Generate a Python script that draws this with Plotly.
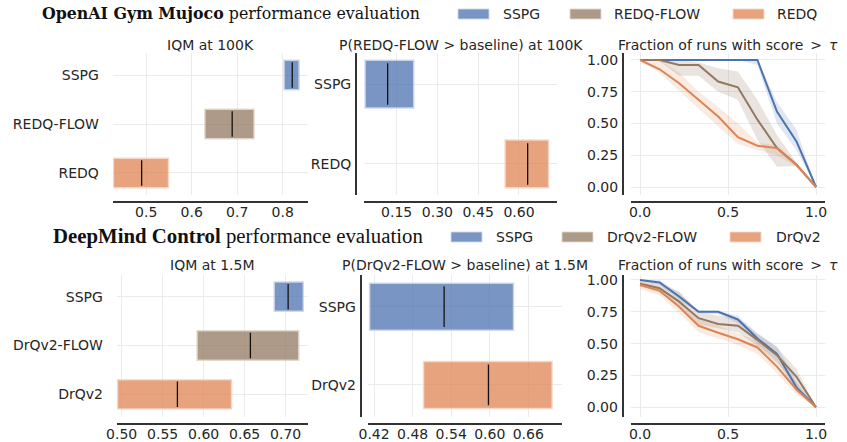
import plotly.graph_objects as go

# ---------------- data ----------------
mujoco_algos = ["SSPG", "REDQ-FLOW", "REDQ"]
mujoco_iqm_lo = [0.803, 0.629, 0.428]
mujoco_iqm_med = [0.821, 0.689, 0.490]
mujoco_iqm_hi = [0.836, 0.737, 0.549]

mujoco_prob_algos = ["SSPG", "REDQ"]
mujoco_prob_lo = [0.034, 0.549]
mujoco_prob_med = [0.117, 0.632]
mujoco_prob_hi = [0.213, 0.709]

dmc_algos = ["SSPG", "DrQv2-FLOW", "DrQv2"]
dmc_iqm_lo = [0.686, 0.592, 0.495]
dmc_iqm_med = [0.703, 0.657, 0.568]
dmc_iqm_hi = [0.7215, 0.716, 0.634]

dmc_prob_algos = ["SSPG", "DrQv2"]
dmc_prob_lo = [0.413, 0.497]
dmc_prob_med = [0.529, 0.598]
dmc_prob_hi = [0.637, 0.697]

tau = [0.0, 0.111, 0.222, 0.333, 0.444, 0.556, 0.667, 0.778, 0.889, 1.0]

mj_sspg = [1.0, 1.0, 1.0, 1.0, 1.0, 1.0, 1.0, 0.594, 0.359, 0.0]
mj_sspg_lo = [1.0, 1.0, 1.0, 1.0, 1.0, 1.0, 0.96, 0.50, 0.29, 0.0]
mj_sspg_hi = [1.0, 1.0, 1.0, 1.0, 1.0, 1.0, 1.0, 0.67, 0.45, 0.0]
mj_flow = [1.0, 1.0, 0.96, 0.96, 0.83, 0.785, 0.53, 0.306, 0.175, 0.0]
mj_flow_lo = [1.0, 0.99, 0.875, 0.875, 0.75, 0.686, 0.37, 0.16, 0.165, 0.0]
mj_flow_hi = [1.0, 1.0, 1.0, 0.98, 0.935, 0.91, 0.686, 0.41, 0.19, 0.0]
mj_redq = [1.0, 0.927, 0.817, 0.686, 0.555, 0.393, 0.325, 0.306, 0.175, 0.0]
mj_redq_lo = [1.0, 0.90, 0.76, 0.62, 0.476, 0.34, 0.29, 0.25, 0.16, 0.0]
mj_redq_hi = [1.0, 1.0, 0.90, 0.75, 0.63, 0.50, 0.35, 0.33, 0.19, 0.0]

dm_sspg = [1.0, 0.98, 0.87, 0.75, 0.75, 0.69, 0.54, 0.42, 0.157, 0.0]
dm_sspg_lo = [0.99, 0.96, 0.84, 0.74, 0.73, 0.66, 0.50, 0.37, 0.12, 0.0]
dm_sspg_hi = [1.0, 1.0, 0.90, 0.76, 0.76, 0.72, 0.58, 0.48, 0.20, 0.0]
dm_flow = [0.97, 0.935, 0.83, 0.70, 0.655, 0.64, 0.53, 0.41, 0.24, 0.0]
dm_flow_lo = [0.95, 0.90, 0.80, 0.65, 0.62, 0.59, 0.48, 0.35, 0.18, 0.0]
dm_flow_hi = [0.99, 0.97, 0.91, 0.75, 0.72, 0.70, 0.58, 0.47, 0.30, 0.0]
dm_drq = [0.96, 0.916, 0.79, 0.64, 0.586, 0.534, 0.47, 0.32, 0.14, 0.0]
dm_drq_lo = [0.93, 0.88, 0.74, 0.59, 0.54, 0.49, 0.42, 0.27, 0.10, 0.0]
dm_drq_hi = [0.99, 0.95, 0.83, 0.69, 0.64, 0.58, 0.52, 0.37, 0.19, 0.0]

# ---------------- styles ----------------
W, H = 847, 442
BAR = {"blue": "rgba(76,114,176,0.75)", "brown": "rgba(147,120,96,0.75)", "orange": "rgba(221,132,82,0.75)"}
EDGE = {"blue": "rgba(205,215,235,0.9)", "brown": "rgba(225,215,205,0.9)", "orange": "rgba(245,215,200,0.9)"}
LINE = {"blue": "#4C72B0", "brown": "#937860", "orange": "#DD8452"}
BAND = {"blue": "rgba(76,114,176,0.17)", "brown": "rgba(147,120,96,0.2)", "orange": "rgba(221,132,82,0.17)"}
TXT = "#262626"
GRID = "#EBEBEB"
SPINE = "#333333"
FONT = "DejaVu Sans"


def px(x):
    return x / W


def py(y):
    return 1 - y / H


fig = go.Figure()
layout = {}


def add_axes(i, xdom, ydom, xrange, yrange, xticks, xfmt, yticks, yticktext, xspine_y, yspine_x, show_yline):
    xa = "xaxis" if i == 1 else f"xaxis{i}"
    ya = "yaxis" if i == 1 else f"yaxis{i}"
    layout[xa] = dict(domain=[px(xdom[0]), px(xdom[1])], range=xrange, anchor="free",
                      position=py(xspine_y), showline=True, linecolor=SPINE, linewidth=2,
                      tickvals=xticks, tickformat=xfmt, ticks="", ticklabelstandoff=-3,
                      showgrid=True, automargin=False,
                      gridcolor=GRID, gridwidth=1, zeroline=False,
                      tickfont=dict(family=FONT, size=14, color=TXT))
    layout[ya] = dict(domain=[py(ydom[1]), py(ydom[0])], range=yrange, anchor="free",
                      position=px(yspine_x), showline=show_yline, linecolor=SPINE, linewidth=2,
                      tickvals=yticks, ticktext=yticktext, ticks="outside",
                      ticklen=(11 if not show_yline else 1), tickcolor="rgba(0,0,0,0)",
                      showgrid=True, automargin=False,
                      gridcolor=GRID, gridwidth=1, zeroline=False,
                      tickfont=dict(family=FONT, size=14, color=TXT))


def add_interval(i, algos, lo, med, hi, colors):
    xr = "x" if i == 1 else f"x{i}"
    yr = "y" if i == 1 else f"y{i}"
    n = len(algos)
    pos = [n - 1 - k for k in range(n)]
    fig.add_trace(go.Bar(orientation="h", y=pos, x=[h - l for l, h in zip(lo, hi)], base=lo,
                         width=0.6, marker=dict(color=[BAR[c] for c in colors],
                                                line=dict(color=[EDGE[c] for c in colors], width=1.5)),
                         xaxis=xr, yaxis=yr, showlegend=False, hoverinfo="skip"))
    for p, m in zip(pos, med):
        fig.add_trace(go.Scatter(x=[m, m], y=[p - 0.26, p + 0.26], mode="lines",
                                 line=dict(color="#111111", width=1.3),
                                 xaxis=xr, yaxis=yr, showlegend=False, hoverinfo="skip"))
    return pos


def add_profiles(i, series):
    xr = f"x{i}"
    yr = f"y{i}"
    for mid, lo, hi, c in series:
        fig.add_trace(go.Scatter(x=tau + tau[::-1], y=hi + lo[::-1], fill="toself",
                                 fillcolor=BAND[c], line=dict(width=0), mode="lines",
                                 xaxis=xr, yaxis=yr, showlegend=False, hoverinfo="skip"))
    for mid, lo, hi, c in series:
        fig.add_trace(go.Scatter(x=tau, y=mid, mode="lines", line=dict(color=LINE[c], width=2),
                                 xaxis=xr, yaxis=yr, showlegend=False, hoverinfo="skip"))


# ---- top row ----
pos1 = add_interval(1, mujoco_algos, mujoco_iqm_lo, mujoco_iqm_med, mujoco_iqm_hi, ["blue", "brown", "orange"])
add_axes(1, (112.7, 308), (53, 195), [0.4264, 0.8556], [-0.45, 2.45], [0.5, 0.6, 0.7, 0.8], ".1f",
         pos1, mujoco_algos, 202, 112.7, False)

pos2 = add_interval(2, mujoco_prob_algos, mujoco_prob_lo, mujoco_prob_med, mujoco_prob_hi, ["blue", "orange"])
add_axes(2, (364, 557.3), (53, 195), [0.03, 0.741], [-0.39, 1.39], [0.15, 0.30, 0.45, 0.60], ".2f",
         pos2, mujoco_prob_algos, 202, 356, True)

add_profiles(3, [(mj_sspg, mj_sspg_lo, mj_sspg_hi, "blue"),
                 (mj_flow, mj_flow_lo, mj_flow_hi, "brown"),
                 (mj_redq, mj_redq_lo, mj_redq_hi, "orange")])
add_axes(3, (630.7, 825), (53, 195), [-0.053, 1.051], [-0.063, 1.055], [0.0, 0.5, 1.0], ".1f",
         [0.0, 0.25, 0.5, 0.75, 1.0], ["0.00", "0.25", "0.50", "0.75", "1.00"], 202, 623, True)

# ---- bottom row ----
pos4 = add_interval(4, dmc_algos, dmc_iqm_lo, dmc_iqm_med, dmc_iqm_hi, ["blue", "brown", "orange"])
add_axes(4, (116.7, 308.3), (275, 417), [0.494, 0.7276], [-0.465, 2.445], [0.50, 0.55, 0.60, 0.65, 0.70], ".2f",
         pos4, dmc_algos, 424, 116.7, False)

pos5 = add_interval(5, dmc_prob_algos, dmc_prob_lo, dmc_prob_med, dmc_prob_hi, ["blue", "orange"])
add_axes(5, (368.3, 561.7), (275, 417), [0.411, 0.712], [-0.41, 1.405], [0.42, 0.48, 0.54, 0.60, 0.66], ".2f",
         pos5, dmc_prob_algos, 424, 360.7, True)

add_profiles(6, [(dm_sspg, dm_sspg_lo, dm_sspg_hi, "blue"),
                 (dm_flow, dm_flow_lo, dm_flow_hi, "brown"),
                 (dm_drq, dm_drq_lo, dm_drq_hi, "orange")])
add_axes(6, (630.7, 825), (275, 417), [-0.053, 1.051], [-0.076, 1.039], [0.0, 0.5, 1.0], ".1f",
         [0.0, 0.25, 0.5, 0.75, 1.0], ["0.00", "0.25", "0.50", "0.75", "1.00"], 424, 622.7, True)

# ---------------- titles ----------------
annotations = []
frac_title = "Fraction of runs with score\u2002>\u2002<i>τ</i>"
subtitles = [
    ("IQM at 100K", 210.3, 45),
    ("P(REDQ-FLOW > baseline) at 100K", 460.7, 45),
    (frac_title, 728, 45),
    ("IQM at 1.5M", 212.5, 265),
    ("P(DrQv2-FLOW > baseline) at 1.5M", 465, 265),
    (frac_title, 728, 265),
]
for t, x, y in subtitles:
    annotations.append(dict(text=t, x=px(x), y=py(y), xref="paper", yref="paper",
                            xanchor="center", yanchor="middle", showarrow=False,
                            font=dict(family=FONT, size=14, color=TXT)))

annotations.append(dict(text="<b>OpenAI Gym Mujoco</b> performance evaluation", x=px(40), y=py(13),
                        xref="paper", yref="paper", xanchor="left", yanchor="middle", showarrow=False,
                        font=dict(family="DejaVu Serif", size=15.8, color="#111111")))
annotations.append(dict(text="<b>DeepMind Control</b> performance evaluation", x=px(51), y=py(236),
                        xref="paper", yref="paper", xanchor="left", yanchor="middle", showarrow=False,
                        font=dict(family="Liberation Serif", size=20.8, color="#111111")))

# ---------------- legends ----------------
shapes = []
legend_top = [("SSPG", "blue", 458, 501), ("REDQ-FLOW", "brown", 570, 612), ("REDQ", "orange", 733, 775)]
legend_bot = [("SSPG", "blue", 451, 494), ("DrQv2-FLOW", "brown", 562, 605), ("DrQv2", "orange", 730, 774)]
for entries, yc in ((legend_top, 14), (legend_bot, 237)):
    for name, c, x0, xt in entries:
        shapes.append(dict(type="rect", xref="paper", yref="paper", x0=px(x0), x1=px(x0 + 31),
                           y0=py(yc + 5), y1=py(yc - 5), fillcolor=BAR[c],
                           line=dict(color=EDGE[c], width=1)))
        annotations.append(dict(text=name, x=px(xt), y=py(yc), xref="paper", yref="paper",
                                xanchor="left", yanchor="middle", showarrow=False,
                                font=dict(family=FONT, size=14, color=TXT)))

fig.update_layout(width=W, height=H, margin=dict(l=0, r=0, t=0, b=0, autoexpand=False),
                  plot_bgcolor="white", paper_bgcolor="white", showlegend=False,
                  annotations=annotations, shapes=shapes, **layout)

fig.write_html("out.html")
